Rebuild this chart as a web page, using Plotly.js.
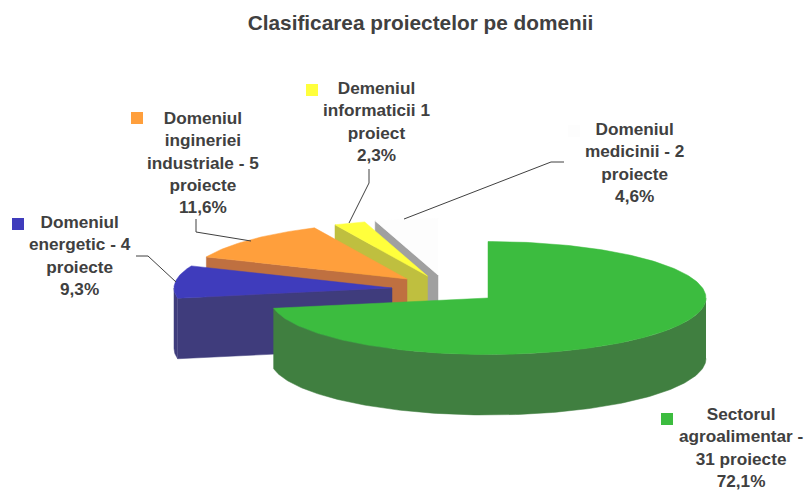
<!DOCTYPE html>
<html>
<head>
<meta charset="utf-8">
<script src="https://cdn.plot.ly/plotly-3.0.1.min.js"></script>
<style>html,body{margin:0;padding:0;background:#fff}#chart{width:804px;height:493px}</style>
</head>
<body>
<div id="chart"></div>
<script>
// ---- data ----
const titleText = "Clasificarea proiectelor pe domenii";
const categories = ["Sectorul agroalimentar", "Domeniul energetic", "Domeniul ingineriei industriale", "Demeniul informaticii", "Domeniul medicinii"];
const projects = [31, 4, 5, 1, 2];
const labels = [
  "Sectorul<br>agroalimentar -<br>31 proiecte<br>72,1%",
  "Domeniul<br>energetic - 4<br>proiecte<br>9,3%",
  "Domeniul<br>ingineriei<br>industriale - 5<br>proiecte<br>11,6%",
  "Demeniul<br>informaticii 1<br>proiect<br>2,3%",
  "Domeniul<br>medicinii - 2<br>proiecte<br>4,6%"
];
// ---- styles ----
const topColors  = ["#3CBC3F", "#3F3CBC", "#FF9F3C", "#FFFF3C", "#FDFDFD"];
const sideColors = ["#407F40", "#3F3C7C", "#BF7040", "#BFBF3F", "#A0A0A0"];
// ---- layout of the projected pie ----
const rx = 218, ry = 56.5, depth = 60.5;
const apexX = [488, 392, 407, 427.5, 438];
const apexY = [298, 288, 279, 276, 275];
const labelX = [741, 79.5, 203, 376, 634];
const labelY = [447.5, 255.5, 162, 121.5, 162.5];
const keyX = [667, 18, 137, 312, 574];
const keyY = [419, 224, 118, 90, 131];
const leaderX = [[], [136,148,176], [196,196,251], [369,369,349], [564,551,404]];
const leaderY = [[], [256,256,282], [219,232,241], [169,183,223], [162,162,219]];
const ink = "#404040";
const fontFamily = '"Liberation Sans", Arial, sans-serif';

const total = projects.reduce((a, b) => a + b, 0);
const rad = d => d * Math.PI / 180;
const px = (i, a) => apexX[i] + rx * Math.sin(rad(a));
const py = (i, a) => apexY[i] - ry * Math.cos(rad(a));

function poly(xs, ys, color, name) {
  return {type: "scatter", mode: "lines", x: xs, y: ys, fill: "toself", fillcolor: color,
          line: {color: color, width: 0.5}, hoverinfo: "name", name: name, showlegend: false};
}
function arc(a0, a1) {
  const out = [];
  const n = Math.max(1, Math.ceil(Math.abs(a1 - a0)));
  for (let k = 0; k <= n; k++) out.push(a0 + (a1 - a0) * k / n);
  return out;
}

// angular extent of each slice, clockwise from 12 o'clock
const starts = [], ends = [];
let running = 0;
projects.forEach(v => { starts.push(running); running += 360 * v / total; ends.push(running); });

const traces = [];
// painter's order: the back slices first, the big front slice last
[4, 3, 2, 1, 0].forEach(i => {
  const s = starts[i], e = ends[i], name = categories[i];
  // cut face at the start edge, visible when it lies on the left half
  if (s > 180) {
    const cx = px(i, s), cy = py(i, s);
    traces.push(poly([apexX[i], cx, cx, apexX[i], apexX[i]],
                     [apexY[i], cy, cy + depth, apexY[i] + depth, apexY[i]], sideColors[i], name));
  }
  // outer wall, only the part facing the viewer
  const w0 = Math.max(s, 90), w1 = Math.min(e, 270);
  if (w1 > w0) {
    const as = arc(w0, w1);
    const xs = as.map(a => px(i, a)), ys = as.map(a => py(i, a));
    const back = as.slice().reverse();
    traces.push(poly(xs.concat(back.map(a => px(i, a))), ys.concat(back.map(a => py(i, a) + depth)), sideColors[i], name));
  }
  // top face
  const as = arc(s, e);
  traces.push(poly([apexX[i]].concat(as.map(a => px(i, a)), [apexX[i]]),
                   [apexY[i]].concat(as.map(a => py(i, a)), [apexY[i]]), topColors[i], name));
});

// leader lines
leaderX.forEach((xs, i) => {
  if (!xs.length) return;
  traces.push({type: "scatter", mode: "lines", x: xs, y: leaderY[i], line: {color: ink, width: 1},
               hoverinfo: "skip", showlegend: false});
});
// legend keys
traces.push({type: "scatter", mode: "markers", x: keyX, y: keyY,
             marker: {symbol: "square", size: 12, color: topColors, line: {width: 0}},
             hoverinfo: "skip", showlegend: false});

const annotations = labels.map((t, i) => ({
  x: labelX[i], y: labelY[i], xref: "x", yref: "y", text: t, showarrow: false,
  align: "center", xanchor: "center", yanchor: "middle",
  font: {family: fontFamily, size: 17.2, color: ink, weight: 700}
}));

const layout = {
  width: 804, height: 493,
  margin: {l: 0, r: 0, t: 0, b: 0},
  paper_bgcolor: "#fff", plot_bgcolor: "#fff",
  showlegend: false,
  title: {text: titleText, x: 420.5 / 804, xanchor: "center", xref: "paper",
          y: 1 - 23 / 493, yanchor: "middle", yref: "container",
          font: {family: fontFamily, size: 20.8, color: ink, weight: 700}},
  xaxis: {range: [0, 804], visible: false, fixedrange: true},
  yaxis: {range: [493, 0], visible: false, fixedrange: true},
  annotations: annotations
};
Plotly.newPlot("chart", traces, layout, {displayModeBar: false, staticPlot: true});
</script>
</body>
</html>
